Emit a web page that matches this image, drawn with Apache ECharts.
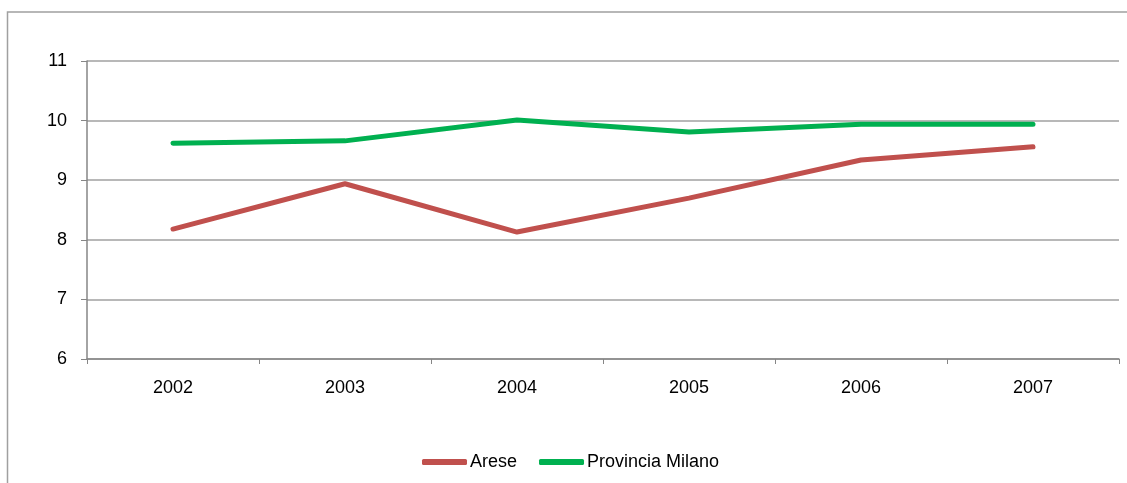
<!DOCTYPE html>
<html><head><meta charset="utf-8">
<script src="https://cdn.jsdelivr.net/npm/echarts@6/dist/echarts.min.js"></script>
<style>html,body{margin:0;padding:0;background:#fff}#c{width:1127px;height:483px}</style>
</head><body><div id="c"></div>
<script>
const categories = ['2002','2003','2004','2005','2006','2007'];
const arese = [8.18, 8.94, 8.13, 8.70, 9.34, 9.56];
const milano = [9.62, 9.66, 10.01, 9.81, 9.94, 9.94];
const yTicks = [6, 7, 8, 9, 10, 11];

const chart = echarts.init(document.getElementById('c'), null, {renderer:'canvas'});
const font = 'Liberation Sans, Arial, sans-serif';
chart.setOption({
  animation: false,
  graphic: [{type:'rect', shape:{x:7.5, y:12, width:1200, height:600}, style:{fill:'none', stroke:'#a0a0a0', lineWidth:1.5}, silent:true}],
  grid: {left:87, right:8, top:61, bottom:124, containLabel:false},
  xAxis: {
    type:'category', data: categories, boundaryGap:true,
    axisLine:{lineStyle:{color:'#868686', width:1.5}},
    axisTick:{show:true, length:5, lineStyle:{color:'#868686'}},
    axisLabel:{color:'#000', fontFamily:font, fontSize:18, margin:20}
  },
  yAxis: {
    type:'value', min:yTicks[0], max:yTicks[yTicks.length-1], interval:1,
    axisLine:{show:true, lineStyle:{color:'#868686', width:1.5}},
    axisTick:{show:true, length:6, lineStyle:{color:'#868686'}},
    splitLine:{lineStyle:{color:'#a0a0a0', width:1.5}},
    axisLabel:{color:'#000', fontFamily:font, fontSize:18, margin:20}
  },
  legend: {
    bottom: 7, left: 417, itemWidth:45, itemHeight:6, itemGap:22, icon:'roundRect',
    textStyle:{fontFamily:font, fontSize:18, color:'#000', padding:[0,0,0,-2]},
    data:['Arese','Provincia Milano']
  },
  series: [
    {name:'Arese', type:'line', data:arese, symbol:'none', lineStyle:{color:'#c0504d', width:5, cap:'round', join:'round'}, itemStyle:{color:'#c0504d'}},
    {name:'Provincia Milano', type:'line', data:milano, symbol:'none', lineStyle:{color:'#00b050', width:5, cap:'round', join:'round'}, itemStyle:{color:'#00b050'}}
  ]
});
</script></body></html>
